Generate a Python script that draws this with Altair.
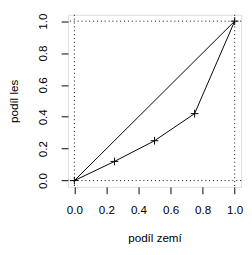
import altair as alt
import pandas as pd

# data
land_share = [0.0, 0.25, 0.5, 0.75, 1.0]
forest_share = [0.0, 0.12, 0.25, 0.42, 1.0]
diag_x = [0.0, 1.0]
diag_y = [0.0, 1.0]
ref_vals = [0.0, 1.0]
tick_vals = [0.0, 0.2, 0.4, 0.6, 0.8, 1.0]

curve = pd.DataFrame({"x": land_share, "y": forest_share})
diag = pd.DataFrame({"x": diag_x, "y": diag_y})
refs = pd.DataFrame({"v": ref_vals})

FONT = "Liberation Sans"
dom = [-0.04, 1.04]

xs = alt.Scale(domain=dom, nice=False, zero=False)
ys = alt.Scale(domain=dom, nice=False, zero=False)

xaxis = alt.Axis(values=tick_vals, format=".1f", title="podíl zemí", grid=False,
                 domain=False, tickSize=7, tickColor="black", labelPadding=11,
                 labelOverlap=False, labelBound=False, labelFlush=False,
                 labelFont=FONT, labelFontSize=12, labelColor="black",
                 titleFont=FONT, titleFontSize=12, titleFontWeight="normal",
                 titleColor="black", titleY=56, titleBaseline="alphabetic")
yaxis = alt.Axis(values=tick_vals, format=".1f", title="podíl les", grid=False,
                 domain=False, tickSize=7, tickColor="black", labelPadding=15,
                 labelOverlap=False, labelBound=False, labelFlush=False,
                 labelAngle=-90, labelAlign="center", labelBaseline="alphabetic",
                 labelFont=FONT, labelFontSize=12, labelColor="black",
                 titleFont=FONT, titleFontSize=12, titleFontWeight="normal",
                 titleColor="black", titleX=-52, titleBaseline="alphabetic",
                 titleAngle=270)


def X(f):
    return alt.X(f, type="quantitative", scale=xs, axis=xaxis)


def Y(f):
    return alt.Y(f, type="quantitative", scale=ys, axis=yaxis)


line = alt.Chart(curve).mark_line(color="black", strokeWidth=1).encode(x=X("x"), y=Y("y"))
pts = alt.Chart(curve).mark_point(shape="M-1,0H1M0,-1V1", size=64, filled=False,
                                  color="black", strokeWidth=1, opacity=1).encode(
    x=X("x"), y=Y("y"))
dline = alt.Chart(diag).mark_line(color="black", strokeWidth=1).encode(x=X("x"), y=Y("y"))
vref = alt.Chart(refs).mark_rule(color="black", strokeWidth=1, strokeDash=[1, 3]).encode(x=X("v"))
href = alt.Chart(refs).mark_rule(color="black", strokeWidth=1, strokeDash=[1, 3]).encode(y=Y("v"))

chart = alt.layer(line, dline, vref, href, pts).properties(
    width=179, height=178,
    padding={"left": 62, "top": 3, "right": 3, "bottom": 56},
    autosize="none",
).configure_view(stroke="black", strokeWidth=1).configure(background="white")

chart.save("out.html", embed_options={"renderer": "svg", "actions": False})
